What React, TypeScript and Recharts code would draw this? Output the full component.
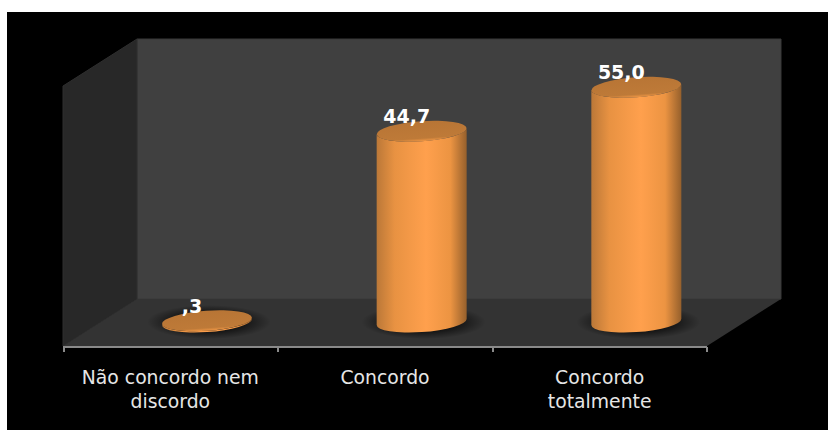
import { Bar, BarChart, Customized, LabelList, XAxis, YAxis } from 'recharts';

const categories = ['Não concordo nem discordo', 'Concordo', 'Concordo totalmente'];
const categoryLines = [['Não concordo nem', 'discordo'], ['Concordo'], ['Concordo', 'totalmente']];
const values = [0.3, 44.7, 55.0];
const data = categories.map((name, i) => ({ name, value: values[i] }));

// the bars stand on the floor, behind the axis line
const DEPTH_X = 37;
const RX = 45;
const RY = 10;
const TILT = -4;
const RIM = 3;

const fmt = (v: number) => v.toFixed(1).replace('.', ',').replace(/^0/, '');

function Room() {
  return (
    <g>
      <rect x={7} y={12} width={821} height={418} fill="#000" />
      <polygon points="137,39 781,39 781,299 137,299" fill="#404040" stroke="#383838" />
      <polygon points="63,86 137,39 137,299 63,346" fill="#282828" stroke="#2e2e2e" />
      <polygon points="137,299 781,299 707,346 63,346" fill="#333333" />
      <path
        d="M63,347H707M64,347V352M278,347V352M493,347V352M707,347V352"
        stroke="#8a8a8a"
        strokeWidth={2}
        fill="none"
      />
    </g>
  );
}

function Cylinder(props: any) {
  const { x, y, width, height } = props;
  const cx = x + width / 2 + DEPTH_X;
  const base = y + height;
  const body =
    `M${cx - RX},${y + RIM} L${cx - RX},${base + RIM} ` +
    `A${RX},${RY} ${TILT} 0 0 ${cx + RX},${base - RIM} ` +
    `L${cx + RX},${y - RIM} A${RX},${RY} ${TILT} 0 1 ${cx - RX},${y + RIM} Z`;
  return (
    <g>
      <ellipse cx={cx + 2} cy={base} rx={RX + 17} ry={RY + 7} fill="url(#floorShadow)" />
      <path d={body} fill="url(#cylinderBody)" />
      <ellipse
        cx={cx}
        cy={y}
        rx={RX}
        ry={RY}
        fill="url(#cylinderTop)"
        transform={`rotate(${TILT} ${cx} ${y})`}
      />
    </g>
  );
}

function ValueLabel(props: any) {
  const { x, y, width, value } = props;
  return (
    <text
      x={x + width / 2 + DEPTH_X - 15}
      y={y - 8}
      textAnchor="middle"
      fill="#ffffff"
      fontFamily="DejaVu Sans"
      fontWeight="bold"
      fontSize={19}
    >
      {fmt(value)}
    </text>
  );
}

function CategoryTick(props: any) {
  const { x, payload, index } = props;
  const lines = categoryLines[index] ?? [payload.value];
  return (
    <text x={x} textAnchor="middle" fill="#e6e6e6" fontFamily="DejaVu Sans" fontSize={18.8}>
      {lines.map((line: string, i: number) => (
        <tspan key={i} x={x} y={384 + i * 24}>
          {line}
        </tspan>
      ))}
    </text>
  );
}

export default function App() {
  return (
    <div style={{ position: 'absolute', left: 0, top: 0, width: 828, height: 430 }}>
      <BarChart
        width={828}
        height={430}
        data={data}
        margin={{ top: 39, right: 121, left: 63, bottom: 0 }}
      >
        <defs>
          <linearGradient id="cylinderBody" x1="0" y1="0" x2="1" y2="0">
            <stop offset="0" stopColor="#bb7838" />
            <stop offset="0.2" stopColor="#e89242" />
            <stop offset="0.55" stopColor="#ffa04d" />
            <stop offset="0.82" stopColor="#ec9442" />
            <stop offset="1" stopColor="#96602c" />
          </linearGradient>
          <linearGradient id="cylinderTop" x1="0" y1="0" x2="0" y2="1">
            <stop offset="0" stopColor="#b87535" />
            <stop offset="0.85" stopColor="#be7a38" />
            <stop offset="1" stopColor="#ee9645" />
          </linearGradient>
          <radialGradient id="floorShadow">
            <stop offset="0.55" stopColor="#000" stopOpacity={0.6} />
            <stop offset="1" stopColor="#000" stopOpacity={0} />
          </radialGradient>
        </defs>
        <Customized component={Room} />
        <XAxis
          dataKey="name"
          height={83}
          axisLine={false}
          tickLine={false}
          interval={0}
          tick={<CategoryTick />}
        />
        <YAxis hide domain={[-5.85, 66.3]} />
        <Bar dataKey="value" barSize={90} shape={<Cylinder />} isAnimationActive={false}>
          <LabelList dataKey="value" content={<ValueLabel />} />
        </Bar>
      </BarChart>
    </div>
  );
}
